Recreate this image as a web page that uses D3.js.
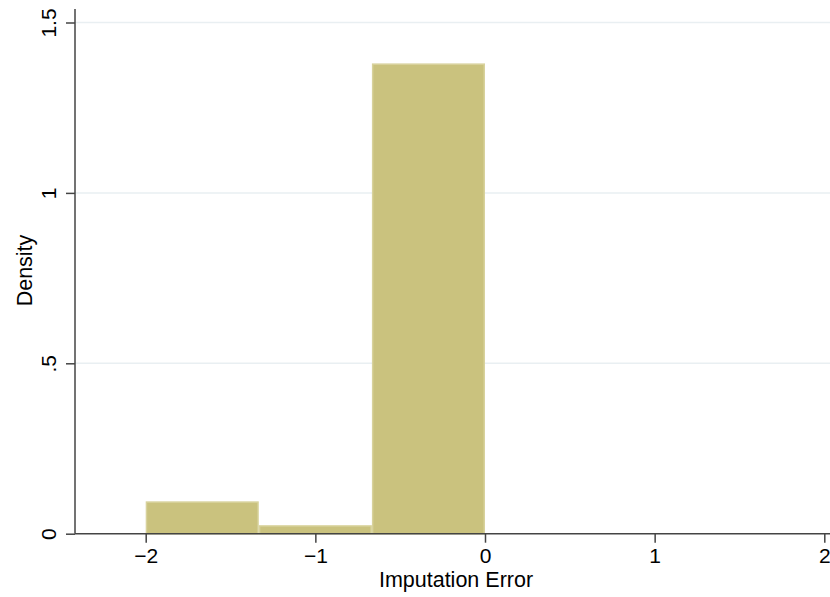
<!DOCTYPE html>
<html>
<head>
<meta charset="utf-8">
<script src="https://cdn.jsdelivr.net/npm/d3@7"></script>
<style>
  html, body { margin: 0; padding: 0; background: #fff; }
  svg { display: block; font-family: "Liberation Sans", Arial, Helvetica, sans-serif; }
</style>
</head>
<body>
<svg id="chart" width="830" height="597"></svg>
<script>
// Histogram bins (left edge, right edge) and densities
const binStarts = [-2, -4 / 3, -2 / 3];
const binEnds = [-4 / 3, -2 / 3, 0];
const densities = [0.095, 0.025, 1.38];

const xTicks = [-2, -1, 0, 1, 2];
const yTicks = [0, 0.5, 1, 1.5];
const yTickLabels = ["0", ".5", "1", "1.5"];

const svg = d3.select("#chart");

const x = d3.scaleLinear().domain([-2, 2]).range([145.7, 824.3]);
const y = d3.scaleLinear().domain([0, 1.5]).range([533.7, 22.5]);

const plotLeft = 75, plotRight = 830, plotTop = 9;

// horizontal grid lines
svg.append("g")
  .selectAll("line")
  .data(yTicks.filter(d => d > 0))
  .join("line")
  .attr("x1", plotLeft).attr("x2", plotRight)
  .attr("y1", d => y(d)).attr("y2", d => y(d))
  .attr("stroke", "#e9eff2")
  .attr("stroke-width", 1.5);

// bars
const bins = densities.map((v, i) => ({ x0: binStarts[i], x1: binEnds[i], v }));
svg.append("g")
  .selectAll("rect")
  .data(bins)
  .join("rect")
  .attr("x", d => x(d.x0) + 0.75)
  .attr("width", d => x(d.x1) - x(d.x0) - 1.5)
  .attr("y", d => y(d.v) + 0.75)
  .attr("height", d => y(0) - y(d.v) - 0.75)
  .attr("fill", "#cac27e")
  .attr("stroke", "#d8d29c")
  .attr("stroke-width", 1.5);

// x axis
const xAxis = svg.append("g")
  .attr("transform", `translate(0,${y(0)})`)
  .call(d3.axisBottom(x).tickValues(xTicks).tickSize(9).tickPadding(5)
    .tickFormat(d => d3.format("d")(d).replace("-", "\u2212")));
xAxis.select(".domain").remove();
xAxis.append("line")
  .attr("x1", plotLeft).attr("x2", plotRight)
  .attr("stroke", "#444").attr("stroke-width", 1.5);
xAxis.selectAll(".tick line").attr("stroke", "#444").attr("stroke-width", 1.5);
xAxis.selectAll(".tick text")
  .attr("fill", "#000")
  .style("font-size", "21px");

// y axis
const yAxis = svg.append("g")
  .attr("transform", `translate(${plotLeft},0)`)
  .call(d3.axisLeft(y).tickValues(yTicks).tickSize(9)
    .tickFormat((d, i) => yTickLabels[i]));
yAxis.select(".domain").remove();
yAxis.append("line")
  .attr("y1", plotTop).attr("y2", y(0))
  .attr("stroke", "#444").attr("stroke-width", 1.5);
yAxis.selectAll(".tick line").attr("stroke", "#444").attr("stroke-width", 1.5);
yAxis.selectAll(".tick text")
  .attr("fill", "#000")
  .attr("x", null).attr("dy", null)
  .attr("text-anchor", "middle")
  .attr("transform", "translate(-19.5,0) rotate(-90)")
  .style("font-size", "21px");

// axis titles
svg.append("text")
  .attr("x", 456).attr("y", 586.5)
  .attr("text-anchor", "middle")
  .style("font-size", "21.5px")
  .text("Imputation Error");

svg.append("text")
  .attr("transform", "translate(31.5,270.5) rotate(-90)")
  .attr("text-anchor", "middle")
  .style("font-size", "21.5px")
  .text("Density");
</script>
</body>
</html>
